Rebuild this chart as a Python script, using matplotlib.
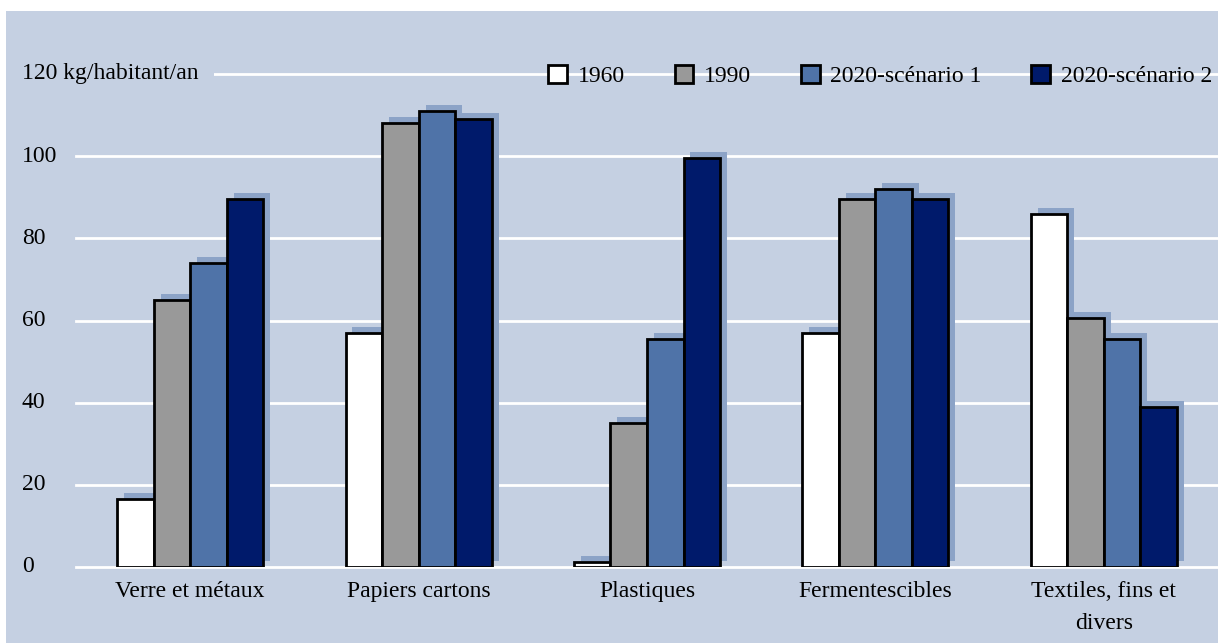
import numpy as np
import matplotlib.pyplot as plt
import matplotlib.patheffects as pe
from matplotlib.patches import Patch, Rectangle

# ── DATA ──────────────────────────────────────────────────────────────────────
categories   = ["Verre et métaux", "Papiers cartons", "Plastiques",
                "Fermentescibles", "Textiles, fins et\ndivers"]
series_names = ["1960", "1990", "2020-scénario 1", "2020-scénario 2"]
v_1960       = [16.5, 57, 1.2, 57, 86]
v_1990       = [65, 108, 35, 89.5, 60.5]
v_2020_s1    = [74, 111, 55.5, 92, 55.5]
v_2020_s2    = [89.5, 109, 99.5, 89.5, 39]
y_ticks      = [0, 20, 40, 60, 80, 100, 120]
y_unit       = "kg/habitant/an"

# ── STYLE ─────────────────────────────────────────────────────────────────────
bg_col     = "#C5D0E2"
shadow_col = "#8CA3C7"
bar_cols   = ["#FFFFFF", "#999999", "#4F73A8", "#001A6B"]
plt.rcParams["font.family"] = ["Liberation Serif", "DejaVu Serif"]

W, H = 1218, 643
fig = plt.figure(figsize=(W / 100, H / 100), dpi=100, facecolor="white")
fig.patches.append(Rectangle((6 / W, 0), 1, 1 - 11 / H, transform=fig.transFigure,
                             facecolor=bg_col, edgecolor="none", zorder=-10))

ax = fig.add_axes([76 / W, 76 / H, 1 - 76 / W, 493 / H])
ax.set_facecolor("none")
for s in ax.spines.values():
    s.set_visible(False)

# Bars with offset shadow
series = [v_1960, v_1990, v_2020_s1, v_2020_s2]
x = np.arange(len(categories))
w = 0.16
shadow = [pe.SimplePatchShadow(offset=(5, 4.3), shadow_rgbFace=shadow_col, alpha=1.0),
          pe.Normal()]
for k, (vals, col) in enumerate(zip(series, bar_cols)):
    bars = ax.bar(x + (k - 1.5) * w, vals, w, color=col, edgecolor="black",
                  linewidth=2.0, zorder=3)
    for b in bars:
        b.set_path_effects(shadow)

ax.set_xlim(-0.5, 4.5)
ax.set_ylim(0, 120)

# Grid
ax.set_yticks(y_ticks)
ax.yaxis.grid(True, color="white", linewidth=2)
ax.set_axisbelow(True)
for gl in ax.get_ygridlines():
    gl.set_clip_on(False)
ax.tick_params(axis="y", length=0, labelleft=False)

# y labels, left aligned
ytr = ax.get_yaxis_transform()
for v in y_ticks:
    if v == y_ticks[-1]:
        ax.text(-54 / 1142, v, f"{v} {y_unit}", transform=ytr, ha="left", va="center",
                fontsize=17, zorder=4, clip_on=False,
                bbox=dict(facecolor=bg_col, edgecolor="none", pad=11))
    else:
        ax.text(-54 / 1142, v, f"{v}", transform=ytr, ha="left", va="center",
                fontsize=17, clip_on=False)

# x labels
ax.set_xticks(x)
ax.set_xticklabels(categories, fontsize=17, linespacing=1.7)
ax.tick_params(axis="x", length=0, pad=10)

# Legend
handles = [Patch(facecolor=c, edgecolor="black", linewidth=2.0) for c in bar_cols]
fig.legend(handles, series_names, loc="center right",
           bbox_to_anchor=(1212 / W, 1 - 76 / H), ncol=4, frameon=False,
           fontsize=17, handlelength=0.8, handleheight=0.8, handletextpad=0.45,
           columnspacing=2.1, borderpad=0, borderaxespad=0)

fig.savefig("out.png", dpi=100, facecolor="white")
